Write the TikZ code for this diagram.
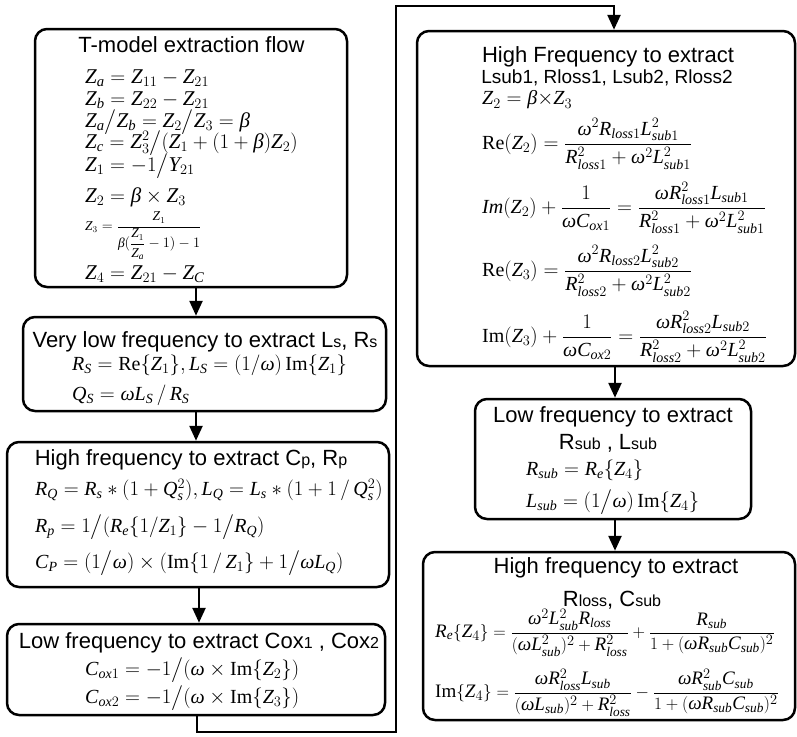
\documentclass[tikz,border=0pt]{standalone}
\usepackage{amsmath}
\usepackage{fontspec}
\setmainfont{Liberation Serif}
\newfontfamily\hd{Liberation Sans}
\newfontfamily\tms{Liberation Serif}[NFSSFamily=tmsx]
\DeclareSymbolFont{tlet}{TU}{tmsx}{m}{it}
\makeatletter
\def\setlet#1{\Umathcode`#1="7 \symtlet `#1\relax}
\@tfor\x:=ABCDEFGHIJKLMNOPQRSTUVWXYZabcdefghijklmnopqrstuvwxyz\do{\expandafter\setlet\x}
\makeatother
\Umathchardef\omega="7 \symtlet "3C9
\Umathchardef\beta="7 \symtlet "3B2
\usetikzlibrary{arrows.meta}
\newcommand{\sm}[1]{{\fontsize{16}{16}\selectfont #1}}
\newcommand{\ReO}{\mathrm{Re}}
\newcommand{\ImO}{\mathrm{Im}}
\tikzset{
  box/.style={draw, line width=2.5pt, rounded corners=12pt, inner sep=0pt},
  ttl/.style={inner sep=0pt, font=\hd\fontsize{22}{26}\selectfont},
  ttls/.style={inner sep=0pt, font=\hd\fontsize{19}{22}\selectfont},
  eq/.style={anchor=west, inner sep=0pt, font=\fontsize{20}{24}\selectfont},
  eqb/.style={anchor=west, inner sep=0pt, font=\fontsize{21}{24}\selectfont},
  eqs/.style={anchor=west, inner sep=0pt, font=\fontsize{19}{22}\selectfont},
  eqt/.style={anchor=west, inner sep=0pt, font=\fontsize{13.5}{16}\selectfont},
  arr/.style={line width=2.5pt, -{Triangle[length=15pt,width=13pt]}}
}
\begin{document}
\begin{tikzpicture}[x=1pt,y=-1pt]
\useasboundingbox (0,0) rectangle (797,736);
% boxes
\node[box, minimum width=312pt, minimum height=258pt] (b1) at (191,158) {};
\node[box, minimum width=363pt, minimum height=94pt] (b2) at (204.5,364) {};
\node[box, minimum width=382pt, minimum height=145pt] (b3) at (198,514.5) {};
\node[box, minimum width=378pt, minimum height=91pt] (b4) at (196,669.5) {};
\node[box, minimum width=378pt, minimum height=335pt] (b5) at (606,198.5) {};
\node[box, minimum width=276pt, minimum height=120pt] (b6) at (613,459) {};
\node[box, minimum width=372pt, minimum height=168pt] (b7) at (609,636) {};
% box 1
\node[ttl] (t1) at (191.5,45) {T-model extraction flow};
\node[eqb] (e11) at (85,78) {$Z_a=Z_{11}-Z_{21}$};
\node[eqb] (e12) at (85,100) {$Z_b=Z_{22}-Z_{21}$};
\node[eqb] (e13) at (85,122) {$Z_a\big/Z_b=Z_2\big/Z_3=\beta$};
\node[eqb] (e14) at (85,143) {$Z_c=Z_3^2\big/(Z_1+(1+\beta)Z_2)$};
\node[eqb] (e15) at (85,166) {$Z_1=-1\big/Y_{21}$};
\node[eqb] (e16) at (85,197) {$Z_2=\beta\times Z_3$};
\node[eqt] (e17) at (85,236) {$Z_3=\dfrac{Z_1}{\beta(\dfrac{Z_1}{Z_a}-1)-1}$};
\node[eqb] (e18) at (85,274) {$Z_4=Z_{21}-Z_C$};
% box 2
\node[ttl] (t2) at (205,342) {Very low frequency to extract L\sm{s}, R\sm{s}};
\node[eq] (e21) at (72,365) {$R_S=\ReO\{Z_1\},L_S=(1/\omega)\,\ImO\{Z_1\}$};
\node[eq] (e22) at (72,395) {$Q_S=\omega L_S\,/\,R_S$};
% box 3
\node[ttl] (t3) at (191,460) {High frequency to extract C\sm{p}, R\sm{p}};
\node[eq] (e31) at (35,490) {$R_Q=R_s*(1+Q_s^2),L_Q=L_s*(1+1\,/\,Q_s^2)$};
\node[eq] (e32) at (35,527) {$R_p=1\big/(R_e\{1/Z_1\}-1\big/R_Q)$};
\node[eq] (e33) at (35,563) {$C_P=(1\big/\omega)\times(\ImO\{1\,/\,Z_1\}+1\big/\omega L_Q)$};
% box 4
\node[ttl] (t4) at (199,643) {Low frequency to extract Cox\sm{1} , Cox\sm{2}};
\node[eq] (e41) at (85,670) {$C_{ox1}=-1\big/(\omega\times\ImO\{Z_2\})$};
\node[eq] (e42) at (85,698) {$C_{ox2}=-1\big/(\omega\times\ImO\{Z_3\})$};
% box 5
\node[ttl] (t5) at (608,57) {High Frequency to extract};
\node[ttls] (t5b) at (607,78) {Lsub1, Rloss1, Lsub2, Rloss2};
\node[eq] (e51) at (482,100) {$Z_2=\beta{\times}Z_3$};
\node[eq] (e52) at (482,144) {$\ReO(Z_2)=\dfrac{\omega^2R_{loss1}L_{sub1}^2}{R_{loss1}^2+\omega^2L_{sub1}^2}$};
\node[eq] (e53) at (482,208) {$Im(Z_2)+\dfrac{1}{\omega C_{ox1}}=\dfrac{\omega R_{loss1}^2L_{sub1}}{R_{loss1}^2+\omega^2L_{sub1}^2}$};
\node[eq] (e54) at (482,271) {$\ReO(Z_3)=\dfrac{\omega^2R_{loss2}L_{sub2}^2}{R_{loss2}^2+\omega^2L_{sub2}^2}$};
\node[eq] (e55) at (482,337) {$\ImO(Z_3)+\dfrac{1}{\omega C_{ox2}}=\dfrac{\omega R_{loss2}^2L_{sub2}}{R_{loss2}^2+\omega^2L_{sub2}^2}$};
% box 6
\node[ttl] (t6) at (613,417) {Low frequency to extract};
\node[ttl] (t6b) at (608,443) {R\sm{sub} , L\sm{sub}};
\node[eq] (e61) at (526,470) {$R_{sub}=R_e\{Z_4\}$};
\node[eq] (e62) at (526,502) {$L_{sub}=(1\big/\omega)\,\ImO\{Z_4\}$};
% box 7
\node[ttl] (t7) at (616,568) {High frequency to extract};
\node[ttl] (t7b) at (612,600) {R\sm{loss}, C\sm{sub}};
\node[eqs] (e71) at (435,633) {$R_e\{Z_4\}=\dfrac{\omega^2L_{sub}^2R_{loss}}{(\omega L_{sub}^2)^2+R_{loss}^2}+\dfrac{R_{sub}}{1+(\omega R_{sub}C_{sub})^2}$};
\node[eqs] (e72) at (435,693) {$\ImO\{Z_4\}=\dfrac{\omega R_{loss}^2L_{sub}}{(\omega L_{sub})^2+R_{loss}^2}-\dfrac{\omega R_{sub}^2C_{sub}}{1+(\omega R_{sub}C_{sub})^2}$};
% connectors
\coordinate (xa) at (196,0);
\coordinate (xb) at (199,0);
\coordinate (xc) at (197,0);
\coordinate (xd) at (615,0);
\coordinate (xe) at (614,0);
\coordinate (c1) at (197,732);
\coordinate (c2) at (396,732);
\coordinate (c3) at (396,6);
\coordinate (c4) at (614,6);
\draw[arr] (b1.south -| xa) -- (b2.north -| xa);
\draw[arr] (b2.south -| xa) -- (b3.north -| xa);
\draw[arr] (b3.south -| xb) -- (b4.north -| xb);
\draw[arr] (b4.south -| xc) -- (c1) -- (c2) -- (c3) -- (c4) -- (b5.north -| xe);
\draw[arr] (b5.south -| xd) -- (b6.north -| xd);
\draw[arr] (b6.south -| xd) -- (b7.north -| xd);
\end{tikzpicture}
\end{document}
